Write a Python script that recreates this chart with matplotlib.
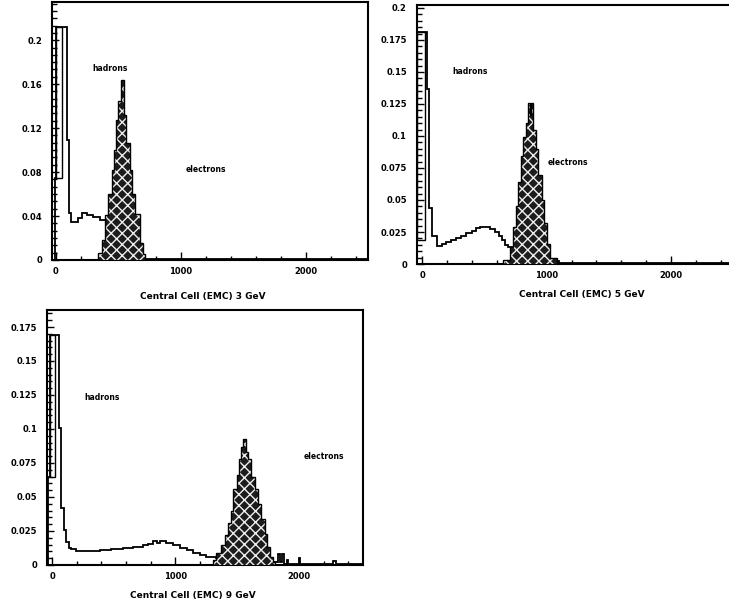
import matplotlib
matplotlib.use("Agg")
import matplotlib.pyplot as plt
from matplotlib.ticker import MultipleLocator, FuncFormatter

plt.rcParams["font.family"] = ["DejaVu Sans"]
plt.rcParams["font.weight"] = "bold"
plt.rcParams["hatch.linewidth"] = 1.0

# ---------------- 3 GeV ----------------
had3_edges = [-8, 0, 85, 104, 120, 178, 205, 245, 300, 352, 405, 440, 500, 560, 620, 700, 2500]
had3_vals = [0.075, 0.212, 0.109, 0.043, 0.035, 0.038, 0.043, 0.041, 0.039, 0.036, 0.033,
             0.025, 0.015, 0.008, 0.003, 0.001]
ped3_edges = [0, 45]
ped3_range = [0.075, 0.212]
ele3_edges = [339, 365, 392, 419, 445, 464, 480, 499, 525, 544, 565, 592, 613, 632, 672, 699, 715]
ele3_vals = [0.006, 0.018, 0.041, 0.060, 0.082, 0.100, 0.127, 0.145, 0.164, 0.132, 0.106,
             0.082, 0.060, 0.042, 0.015, 0.005]

# ---------------- 5 GeV ----------------
had5_edges = [-46, -41, 40, 56, 75, 115, 155, 190, 230, 270, 310, 350, 397, 430, 464, 504,
              545, 584, 615, 638, 665, 692, 720, 750, 800, 860, 950, 1100, 2500]
had5_vals = [0.020, 0.181, 0.137, 0.044, 0.022, 0.0138, 0.016, 0.017, 0.019, 0.020, 0.022,
             0.024, 0.026, 0.028, 0.029, 0.029, 0.027, 0.025, 0.022, 0.019, 0.015, 0.013,
             0.011, 0.008, 0.005, 0.003, 0.002, 0.001]
ped5_edges = [-41, 21]
ped5_range = [0.019, 0.181]
ele5_edges = [651, 705, 731, 750, 772, 793, 812, 831, 847, 863, 874, 892, 911, 933, 960, 981,
              1000, 1027, 1080]
ele5_vals = [0.003, 0.0135, 0.029, 0.045, 0.064, 0.084, 0.0995, 0.110, 0.1255, 0.116, 0.1255,
             0.105, 0.090, 0.0695, 0.050, 0.032, 0.016, 0.0045]

# ---------------- 9 GeV ----------------
had9_edges = [-33, -19, 56, 75, 94, 110, 137, 156, 197, 290, 386, 480, 576, 660, 738, 780,
              819, 850, 873, 927, 980, 1035, 1090, 1143, 1200, 1251, 1332, 1400, 1500, 1600,
              1830, 1850, 1860, 1880, 1900, 1912, 2000, 2012, 2280, 2300, 2520]
had9_vals = [0.065, 0.169, 0.1005, 0.0417, 0.0257, 0.017, 0.0123, 0.0115, 0.0102, 0.0105,
             0.0112, 0.0118, 0.0125, 0.0135, 0.0145, 0.0155, 0.0175, 0.0160, 0.0175, 0.0165,
             0.0150, 0.0128, 0.0108, 0.0090, 0.0075, 0.0062, 0.005, 0.004, 0.003, 0.002,
             0.008, 0.002, 0.008, 0.001, 0.004, 0.001, 0.005, 0.001, 0.003, 0.001]
ped9_edges = [-19, 21]
ped9_range = [0.065, 0.169]
ele9_edges = [1305, 1332, 1373, 1400, 1427, 1454, 1467, 1495, 1516, 1535, 1548, 1570, 1589,
              1616, 1643, 1670, 1697, 1724, 1743, 1770, 1791, 1810]
ele9_vals = [0.004, 0.0086, 0.0147, 0.022, 0.0306, 0.040, 0.056, 0.066, 0.078, 0.087, 0.093,
             0.083, 0.078, 0.065, 0.056, 0.045, 0.034, 0.023, 0.0135, 0.006, 0.002]

x_tick_labels = ["0", "1000", "2000"]

panels = [
    dict(rect=[0.0713, 0.5738, 0.4335, 0.4234], xlim=(-32, 2500), ylim=(0, 0.235),
         ymaj=0.04, ymin=0.04 / 6, had=(had3_edges, had3_vals), ped=(ped3_edges, ped3_range),
         ele=(ele3_edges, ele3_vals), xlabel="Central Cell (EMC) 3 GeV",
         lab=(0.476, -0.125), htxt=(432, 0.1745), etxt=(1200, 0.082)),
    dict(rect=[0.5716, 0.5672, 0.4342, 0.4246], xlim=(-46, 2500), ylim=(0, 0.2023),
         ymaj=0.025, ymin=0.005, had=(had5_edges, had5_vals), ped=(ped5_edges, ped5_range),
         ele=(ele5_edges, ele5_vals), xlabel="Central Cell (EMC) 5 GeV",
         lab=(0.523, -0.10), htxt=(383, 0.150), etxt=(1167, 0.079)),
    dict(rect=[0.0641, 0.0738, 0.4339, 0.418], xlim=(-43, 2520), ylim=(0, 0.1875),
         ymaj=0.025, ymin=0.005, had=(had9_edges, had9_vals), ped=(ped9_edges, ped9_range),
         ele=(ele9_edges, ele9_vals), xlabel="Central Cell (EMC) 9 GeV",
         lab=(0.463, -0.102), htxt=(402, 0.123), etxt=(2203, 0.080)),
]

fig = plt.figure(figsize=(7.29, 6.10), dpi=100)

fmt = FuncFormatter(lambda v, p: "0" if abs(v) < 1e-9 else f"{round(v, 4):g}")

for p in panels:
    ax = fig.add_axes(p["rect"])
    ax.set_xlim(*p["xlim"])
    ax.set_ylim(*p["ylim"])

    # hadron spectrum: open step outline
    he, hv = p["had"]
    ax.stairs(hv, he, baseline=0, color="black", lw=1.3, zorder=3)

    # pedestal box next to the spike
    pe, pr = p["ped"]
    ax.bar(pe[0], pr[1] - pr[0], width=pe[1] - pe[0], bottom=pr[0], align="edge",
           fill=False, edgecolor="black", lw=1.0, zorder=3)

    # electron spectrum: cross-hatched dark fill
    ee, ev = p["ele"]
    ax.stairs(ev, ee, baseline=0, fill=True, facecolor="#1c1c1c", edgecolor="#eeeeee",
              hatch="xxx", lw=0, zorder=4)
    ax.stairs(ev, ee, baseline=0, color="black", lw=1.0, zorder=5)

    ax.text(*p["htxt"], "hadrons", fontsize=5.5, fontweight="bold", ha="center", va="center")
    ax.text(*p["etxt"], "electrons", fontsize=5.5, fontweight="bold", ha="center", va="center")

    ax.xaxis.set_major_locator(MultipleLocator(1000))
    ax.xaxis.set_minor_locator(MultipleLocator(200))
    ax.yaxis.set_major_locator(MultipleLocator(p["ymaj"]))
    ax.yaxis.set_minor_locator(MultipleLocator(p["ymin"]))
    ax.yaxis.set_major_formatter(fmt)
    ax.set_xticks([0, 1000, 2000])
    ax.set_xticklabels(x_tick_labels)

    ax.tick_params(axis="both", which="both", direction="in", top=False, right=False,
                   width=1.0, labelsize=6)
    ax.tick_params(axis="x", which="major", length=6, pad=5)
    ax.tick_params(axis="x", which="minor", length=3)
    ax.tick_params(axis="y", which="major", length=5, pad=7)
    ax.tick_params(axis="y", which="minor", length=3.5)
    for lab in ax.get_xticklabels() + ax.get_yticklabels():
        lab.set_fontweight("bold")

    for s in ax.spines.values():
        s.set_linewidth(1.5)

    ax.set_xlabel(p["xlabel"], fontsize=6.5, fontweight="bold")
    ax.xaxis.set_label_coords(*p["lab"])

fig.savefig("out.png", dpi=100)
